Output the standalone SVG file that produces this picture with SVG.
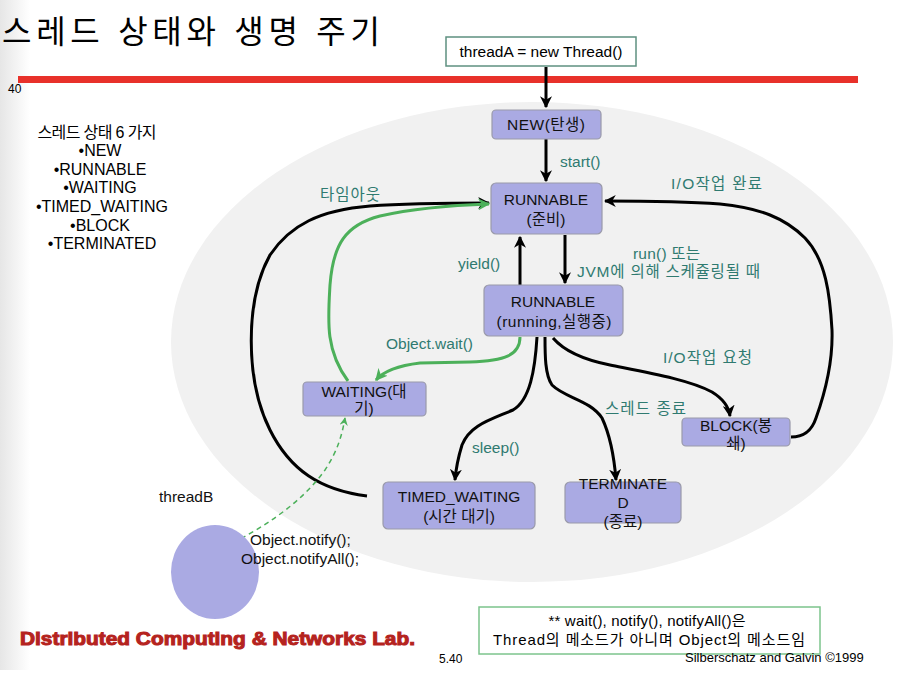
<svg xmlns="http://www.w3.org/2000/svg" width="917" height="681" viewBox="0 0 917 681">
<defs>
<style>
text{font-family:"Liberation Sans","Noto Sans CJK KR",sans-serif;}
.node rect{fill:#aaaae3;stroke:#9a9aaa;stroke-width:1.2;}
.nt{font-size:15.5px;fill:#111;text-anchor:middle;}
.lbl{font-size:15.5px;fill:#2f7a70;}
.blk{font-size:15.5px;fill:#111;}
.lst{font-size:16px;fill:#000;text-anchor:middle;}
.c{fill:none;stroke:#000;stroke-width:3;}
.g{fill:none;stroke:#4cb05a;stroke-width:3;}
.gd{fill:none;stroke:#4cb05a;stroke-width:1.5;stroke-dasharray:5,4;}
</style>
<marker id="ab" viewBox="0 0 10 10" refX="9" refY="5" markerWidth="4" markerHeight="4" orient="auto" markerUnits="strokeWidth">
<path d="M0,0 L10,5 L0,10 L3,5 z" fill="#000"/>
</marker>
<marker id="ag" viewBox="0 0 10 10" refX="9" refY="5" markerWidth="4" markerHeight="4" orient="auto" markerUnits="strokeWidth">
<path d="M0,0 L10,5 L0,10 L3,5 z" fill="#4cb05a"/>
</marker>
<marker id="agd" viewBox="0 0 10 10" refX="9" refY="5" markerWidth="5.5" markerHeight="5.5" orient="auto" markerUnits="strokeWidth">
<path d="M0,0 L10,5 L0,10 L3,5 z" fill="#4cb05a"/>
</marker>
<linearGradient id="edge" x1="0" y1="0" x2="1" y2="0">
<stop offset="0" stop-color="#e6e6e6"/>
<stop offset="1" stop-color="#ffffff"/>
</linearGradient>
</defs>
<rect x="0" y="0" width="917" height="681" fill="#fff"/>
<rect x="0" y="0" width="30" height="670" fill="url(#edge)"/>
<ellipse cx="532" cy="342" rx="361" ry="240" fill="#f1f1f1"/>

<text x="2" y="43" font-size="32" fill="#000" textLength="378">스레드 상태와 생명 주기</text>
<rect x="18" y="76" width="840" height="7" fill="#e8312a"/>
<text x="8" y="93" font-size="12" fill="#000">40</text>

<g id="states-list">
<text class="lst" x="97" y="138" textLength="119">스레드 상태 6 가지</text>
<text class="lst" x="100" y="156">•NEW</text>
<text class="lst" x="100" y="175">•RUNNABLE</text>
<text class="lst" x="100" y="193">•WAITING</text>
<text class="lst" x="102" y="212">•TIMED_WAITING</text>
<text class="lst" x="100" y="231">•BLOCK</text>
<text class="lst" x="102" y="249">•TERMINATED</text>
</g>

<g id="connectors">
<path class="c" d="M546,67 L546,107" marker-end="url(#ab)"/>
<path class="c" d="M546,139 L546,181" marker-end="url(#ab)"/>
<path class="c" d="M520,285 L520,237" marker-end="url(#ab)"/>
<path class="c" d="M565,235 L565,283" marker-end="url(#ab)"/>
<path class="c" d="M367,496 C320,490 290,470 270,430 C245,380 245,300 270,255 C290,225 320,210 370,206 C410,203 450,203 489,203" marker-end="url(#ab)"/>
<path class="g" d="M348,381 C325,350 328,320 330,285 C333,245 345,225 380,216 C420,207 460,205 489,204" marker-end="url(#ag)"/>
<path class="g" d="M520,337 C520,355 505,361 470,362 L420,363 C395,366 382,373 376,380" marker-end="url(#ag)"/>
<path class="gd" d="M217,551 C260,530 300,505 325,470 C338,450 342,435 345,418" marker-end="url(#agd)"/>
<path class="c" d="M537,337 C535,370 530,400 513,410 C490,420 470,425 462,445 C458,458 456,468 455,480" marker-end="url(#ab)"/>
<path class="c" d="M545,337 C545,355 545,375 552,385 C565,398 590,400 602,418 C610,435 614,455 616,480" marker-end="url(#ab)"/>
<path class="c" d="M553,338 C565,352 585,360 610,365 C650,373 690,380 712,392 C725,400 729,408 730,416" marker-end="url(#ab)"/>
<path class="c" d="M791,437 C805,437 812,430 816,418 C826,390 833,360 832,330 C830,295 826,260 805,238 C785,218 760,208 720,204 C680,201 640,201 605,201" marker-end="url(#ab)"/>
</g>

<g id="labels">
<text class="lbl" x="560" y="167">start()</text>
<text class="lbl" x="320" y="200" textLength="60">타임아웃</text>
<text class="lbl" x="671" y="189" textLength="91">I/O작업  완료</text>
<text class="lbl" x="458" y="269">yield()</text>
<text class="lbl" x="633" y="259" textLength="67">run() 또는</text>
<text class="lbl" x="577" y="277" textLength="183">JVM에 의해 스케쥴링될 때</text>
<text class="lbl" x="386" y="349">Object.wait()</text>
<text class="lbl" x="663" y="363" textLength="89">I/O작업 요청</text>
<text class="lbl" x="605" y="414" textLength="81">스레드 종료</text>
<text class="lbl" x="472" y="453">sleep()</text>
</g>

<g id="threadA">
<rect x="446" y="37" width="190" height="29" fill="#fff" stroke="#5e9080" stroke-width="1.5"/>
<text x="541" y="57" font-size="15.5" text-anchor="middle" fill="#000">threadA = new Thread()</text>
</g>

<g id="new" class="node">
<rect x="492" y="110" width="109" height="29" rx="4"/>
<text class="nt" x="546" y="130" textLength="78">NEW(탄생)</text>
</g>

<g id="runnable-ready" class="node">
<rect x="491" y="183" width="111" height="51" rx="5"/>
<text class="nt" x="546" y="205">RUNNABLE</text>
<text class="nt" x="546" y="225">(준비)</text>
</g>

<g id="runnable-running" class="node">
<rect x="484" y="285" width="139" height="51" rx="5"/>
<text class="nt" x="553" y="307">RUNNABLE</text>
<text class="nt" x="554" y="327" textLength="115">(running,실행중)</text>
</g>

<g id="waiting" class="node">
<rect x="303" y="382" width="123" height="34" rx="4"/>
<text class="nt" x="364" y="397">WAITING(대</text>
<text class="nt" x="364" y="414">기)</text>
</g>

<g id="timed-waiting" class="node">
<rect x="383" y="482" width="152" height="47" rx="5"/>
<text class="nt" x="459" y="502">TIMED_WAITING</text>
<text class="nt" x="459" y="522">(시간 대기)</text>
</g>

<g id="terminated" class="node">
<rect x="565" y="482" width="116" height="41" rx="5"/>
<text class="nt" x="623" y="489">TERMINATE</text>
<text class="nt" x="623" y="508">D</text>
<text class="nt" x="623" y="527">(종료)</text>
</g>

<g id="block" class="node">
<rect x="682" y="418" width="108" height="28" rx="4"/>
<text class="nt" x="736" y="431">BLOCK(봉</text>
<text class="nt" x="736" y="449">쇄)</text>
</g>

<g id="threadB">
<ellipse cx="215" cy="572" rx="44" ry="47" fill="#aaaae3"/>
<text class="blk" x="159" y="502">threadB</text>
<text class="blk" x="250" y="545">Object.notify();</text>
<text class="blk" x="241" y="564">Object.notifyAll();</text>
</g>

<g id="note">
<rect x="479" y="607" width="341" height="47" fill="none" stroke="#7cc48c" stroke-width="1.5"/>
<text x="647" y="626" font-size="15" text-anchor="middle" fill="#000" textLength="197">** wait(), notify(), notifyAll()은</text>
<text x="649" y="645" font-size="15" text-anchor="middle" fill="#000" textLength="312">Thread의 메소드가 아니며 Object의 메소드임</text>
</g>

<text x="20" y="645" font-size="18" font-weight="bold" fill="#b5231e" stroke="#b5231e" stroke-width="1" textLength="395" lengthAdjust="spacingAndGlyphs" font-family="'DejaVu Sans','Liberation Sans',sans-serif">Distributed Computing &amp; Networks Lab.</text>
<text x="439" y="663" font-size="12" fill="#000">5.40</text>
<text x="685" y="662" font-size="13" fill="#000">Silberschatz and Galvin ©1999</text>
</svg>
